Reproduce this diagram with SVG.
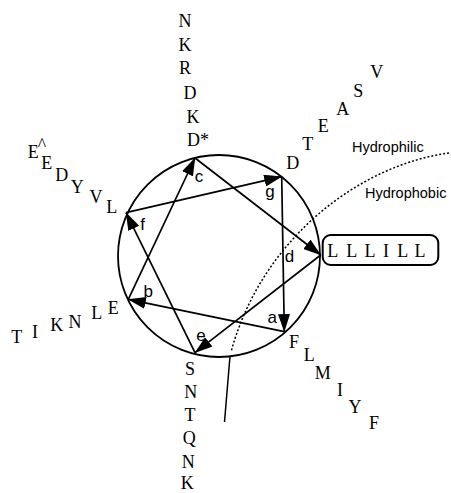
<svg xmlns="http://www.w3.org/2000/svg" width="451" height="493" viewBox="0 0 451 493">
<style>
.res{font-family:"Liberation Serif","Times New Roman",serif;font-size:18px;text-anchor:middle;fill:#000}
.lbl{font-family:"Liberation Sans",Arial,sans-serif;font-size:17px;text-anchor:middle;fill:#000}
.zone{font-family:"Liberation Sans",Arial,sans-serif;font-size:14.5px;fill:#000}
.edge{stroke:#000;stroke-width:1.7;fill:none;marker-end:url(#ah)}
</style>
<defs>
<marker id="ah" markerUnits="userSpaceOnUse" viewBox="0 0 18 12" markerWidth="18" markerHeight="12" refX="17.5" refY="6" orient="auto">
<path d="M0,0 L18,6 L0,12 z" fill="#000"/>
</marker>
</defs>
<rect width="451" height="493" fill="#fff"/>
<g id="wheel">
<circle cx="219" cy="256" r="101" fill="none" stroke="#000" stroke-width="1.8"/>
</g>
<g id="membrane">
<path d="M449,153 C360,165 262,238 231,352" fill="none" stroke="#000" stroke-width="1.5" stroke-dasharray="2,2"/>
<path d="M230,356 L224.5,422" fill="none" stroke="#000" stroke-width="1.5"/>
</g>
<g id="connectors">
<line class="edge" x1="284.3" y1="331.7" x2="128.3" y2="299.3"/>
<line class="edge" x1="128.3" y1="299.3" x2="195" y2="158"/>
<line class="edge" x1="195" y1="158" x2="320.7" y2="255"/>
<line class="edge" x1="320.7" y1="255" x2="195" y2="352.7"/>
<line class="edge" x1="195" y1="352.7" x2="126" y2="212.7"/>
<line class="edge" x1="126" y1="212.7" x2="281.7" y2="176.7"/>
<line class="edge" x1="281.7" y1="176.7" x2="284.3" y2="331.7"/>
</g>
<g id="labels">
<text class="lbl" x="272.3" y="322.7">a</text>
<text class="lbl" x="148.3" y="296.7">b</text>
<text class="lbl" x="199" y="182">c</text>
<text class="lbl" x="289.5" y="261.7">d</text>
<text class="lbl" x="201" y="341">e</text>
<text class="lbl" x="142.7" y="230">f</text>
<text class="lbl" x="270" y="197">g</text>
</g>
<g id="pos-c">
<text class="res" x="185" y="27">N</text>
<text class="res" x="185" y="51">K</text>
<text class="res" x="185" y="74">R</text>
<text class="res" x="190" y="99">D</text>
<text class="res" x="193" y="123">K</text>
<text class="res" x="198" y="146">D*</text>
</g>
<g id="pos-g">
<text class="res" x="292.7" y="169">D</text>
<text class="res" x="307.7" y="150">T</text>
<text class="res" x="323.3" y="132">E</text>
<text class="res" x="342.7" y="115">A</text>
<text class="res" x="358.3" y="97">S</text>
<text class="res" x="376.7" y="78">V</text>
</g>
<g id="pos-d">
<rect x="322.7" y="235" width="115.6" height="30" rx="8" ry="8" fill="none" stroke="#000" stroke-width="2"/>
<text class="res" x="332.7" y="257">L</text>
<text class="res" x="351.7" y="257">L</text>
<text class="res" x="370" y="257">L</text>
<text class="res" x="386" y="257">I</text>
<text class="res" x="402.7" y="257">L</text>
<text class="res" x="420" y="257">L</text>
</g>
<g id="pos-a">
<text class="res" x="294" y="348">F</text>
<text class="res" x="309.3" y="361">L</text>
<text class="res" x="322.7" y="379">M</text>
<text class="res" x="340" y="396">I</text>
<text class="res" x="355" y="413">Y</text>
<text class="res" x="374" y="429">F</text>
</g>
<g id="pos-e">
<text class="res" x="190" y="375">S</text>
<text class="res" x="190.7" y="398">N</text>
<text class="res" x="190" y="421">T</text>
<text class="res" x="189.3" y="444">Q</text>
<text class="res" x="188.3" y="468">N</text>
<text class="res" x="187.3" y="489">K</text>
</g>
<g id="pos-b">
<text class="res" x="16.7" y="343">T</text>
<text class="res" x="35" y="338">I</text>
<text class="res" x="56.7" y="331">K</text>
<text class="res" x="75" y="328">N</text>
<text class="res" x="96.7" y="319">L</text>
<text class="res" x="113.3" y="314">E</text>
</g>
<g id="pos-f">
<text class="res" x="33.3" y="158">E</text>
<text class="res" x="42" y="151">^</text>
<text class="res" x="46.7" y="169">E</text>
<text class="res" x="61.7" y="181">D</text>
<text class="res" x="77.3" y="193">Y</text>
<text class="res" x="96" y="203">V</text>
<text class="res" x="111.7" y="213">L</text>
</g>
<g id="zones">
<text class="zone" x="352" y="152">Hydrophilic</text>
<text class="zone" x="365" y="198">Hydrophobic</text>
</g>
</svg>
